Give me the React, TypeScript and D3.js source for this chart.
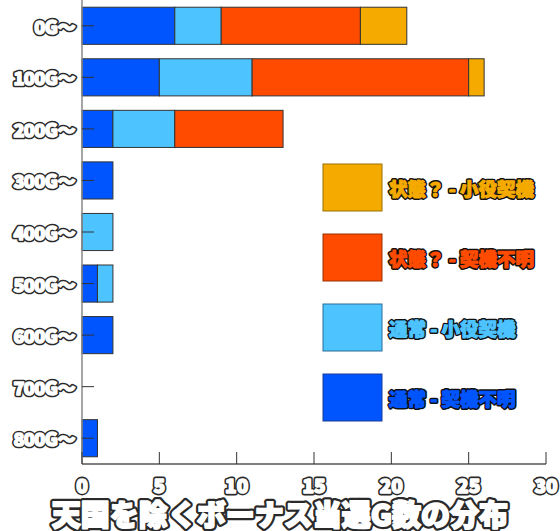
import React from "react";
import * as d3 from "d3";

const categories = ["0G～", "100G～", "200G～", "300G～", "400G～", "500G～", "600G～", "700G～", "800G～"];
const seriesNames = ["通常 - 契機不明", "通常 - 小役契機", "状態？ - 契機不明", "状態？ - 小役契機"];
const normalUnknown = [6, 5, 2, 2, 0, 1, 2, 0, 1];
const normalKoyaku = [3, 6, 4, 0, 2, 1, 0, 0, 0];
const stateUnknown = [9, 14, 7, 0, 0, 0, 0, 0, 0];
const stateKoyaku = [3, 1, 0, 0, 0, 0, 0, 0, 0];
const xTicks = [0, 5, 10, 15, 20, 25, 30];
const colors = ["#0055ff", "#4dc3ff", "#ff4b00", "#f5aa00"];
const strokeColors = ["#1a3a99", "#2a6f99", "#993300", "#997000"];

const W = 560, H = 531;
const left = 82, right = 546, top = 0, bottom = 464;
const font = "'Noto Sans CJK JP', 'Noto Sans', sans-serif";

function OText(props: { x: number; y: number; size: number; fill: string; sw: number; fw?: number; sc?: string; anchor?: string; ls?: number; children: React.ReactNode }) {
  const common = {
    x: props.x, y: props.y, textAnchor: props.anchor || "start", dominantBaseline: "central",
    fontFamily: font, fontWeight: 900, fontSize: props.size, letterSpacing: props.ls || 0,
    strokeLinejoin: "round",
  } as any;
  const sc = props.sc || "#2a2a2a";
  const fw = props.fw ?? 1.3;
  return (
    <g>
      <text {...common} fill={sc} stroke={sc} strokeWidth={props.sw + fw}>{props.children}</text>
      <text {...common} fill={props.fill} stroke={props.fill} strokeWidth={fw}>{props.children}</text>
    </g>
  );
}

export default function App() {
  const x = d3.scaleLinear().domain([0, 30]).range([left, right]);
  const y = d3.scaleBand<string>().domain(categories).range([top, bottom]).paddingInner(0.28).paddingOuter(0.14);
  const rows = categories.map((c, i) => ({ c, v: [normalUnknown[i], normalKoyaku[i], stateUnknown[i], stateKoyaku[i]] }));
  const stack = d3.stack<any>().keys(["0", "1", "2", "3"]).value((d: any, k: string) => d.v[+k]);
  const series = stack(rows);
  const legendOrder = [3, 2, 1, 0];
  return (
    <div style={{ position: "absolute", left: 0, top: 0 }}>
      <svg width={W} height={H} style={{ display: "block", background: "#fff" }}>
        {series.map((s, si) => (
          <g key={si}>
            {s.map((d, i) => d[1] - d[0] > 0 ? (
              <rect key={i} x={x(d[0])} y={y(categories[i])!} width={x(d[1]) - x(d[0])} height={y.bandwidth()}
                fill={colors[si]} stroke="#333" strokeWidth={1} />
            ) : null)}
          </g>
        ))}
        <line x1={left} x2={left} y1={0} y2={bottom} stroke="#888" strokeWidth={1.5} />
        {categories.map((c) => (
          <line key={c} x1={left} x2={left + 12} y1={y(c)! + y.bandwidth() / 2} y2={y(c)! + y.bandwidth() / 2} stroke="#333" strokeWidth={1} />
        ))}
        <line x1={left} x2={right} y1={bottom} y2={bottom} stroke="#555" strokeWidth={1.5} />
        {xTicks.map((t) => (
          <line key={t} x1={x(t)} x2={x(t)} y1={bottom} y2={bottom - 12} stroke="#333" strokeWidth={1} />
        ))}
        {xTicks.map((t) => (
          <OText key={t} x={x(t)} y={484} anchor="middle" size={19} fill="#fff" sw={3.2} fw={1.6}>{t}</OText>
        ))}
        {categories.map((c) => (
          <OText key={c} x={75} y={y(c)! + y.bandwidth() / 2} anchor="end" size={18} ls={-0.5} fill="#fff" sw={3.2} fw={1.5}>{c}</OText>
        ))}
        {legendOrder.map((si, k) => (
          <g key={si} transform={`translate(323, ${164 + k * 70})`}>
            <rect x={0} y={0} width={59} height={47} fill={colors[si]} stroke={strokeColors[si]} strokeWidth={1} />
            <OText x={66} y={24} size={18.5} fill={colors[si]} sw={2.8} fw={1.1} sc="#111">{seriesNames[si]}</OText>
          </g>
        ))}
        <OText x={280} y={513} anchor="middle" size={29} fill="#fff" sw={4.5} fw={1.8}>天国を除くボーナス当選G数の分布</OText>
      </svg>
    </div>
  );
}
